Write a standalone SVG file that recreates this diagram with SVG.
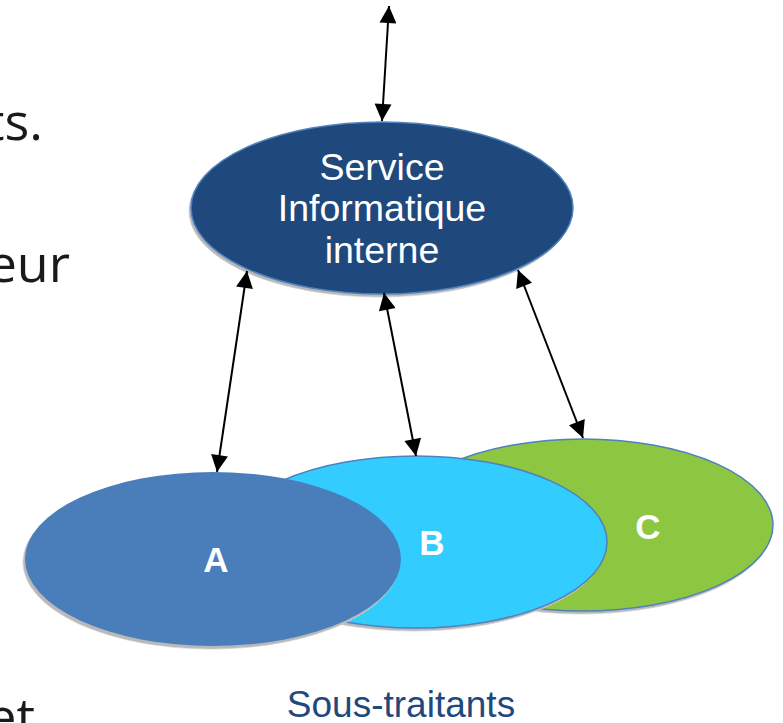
<svg xmlns="http://www.w3.org/2000/svg" width="783" height="723" viewBox="0 0 783 723">
<defs>
<style>
.side{font-family:"Open Sans","Noto Sans","DejaVu Sans",sans-serif;font-size:52px;fill:#1a1a1a}
.lbl{font-family:"Liberation Sans",Arial,sans-serif;fill:#ffffff;text-anchor:middle}
.big{font-size:37.5px}
.letter{font-size:35px;font-weight:bold}
.shadow{fill:#b9b9b9;stroke:#d0d0d0;stroke-width:1;stroke-dasharray:2 1}
.conn line{stroke:#000;stroke-width:2;marker-start:url(#ah);marker-end:url(#ah)}
</style>
<marker id="ah" viewBox="0 0 10 10" refX="10" refY="5" markerUnits="userSpaceOnUse" markerWidth="18" markerHeight="17" orient="auto-start-reverse">
<path d="M0,0 L10,5 L0,10 z" fill="#000"/>
</marker>
</defs>
<rect width="783" height="723" fill="#ffffff"/>

<text class="side" x="43" y="140" text-anchor="end">ts.</text>
<text class="side" x="70" y="282" text-anchor="end">eur</text>
<text class="side" x="35" y="735" text-anchor="end">et</text>

<g id="node-C">
<ellipse class="shadow" cx="581" cy="528" rx="190" ry="86"/>
<ellipse cx="583" cy="525" rx="190" ry="86" fill="#8DC641" stroke="#4F81BD" stroke-width="1.5"/>
<text class="lbl letter" x="648" y="539">C</text>
</g>
<g id="node-B">
<ellipse class="shadow" cx="414" cy="545" rx="191" ry="86"/>
<ellipse cx="416" cy="542" rx="191" ry="86" fill="#33CCFF" stroke="#4F81BD" stroke-width="1.5"/>
<text class="lbl letter" x="432" y="555">B</text>
</g>
<g id="node-A">
<ellipse class="shadow" cx="211" cy="562" rx="188" ry="87"/>
<ellipse cx="213" cy="559" rx="188" ry="87" fill="#4A7EBB"/>
<text class="lbl letter" x="216" y="572">A</text>
</g>
<g id="node-service">
<ellipse class="shadow" cx="380" cy="211" rx="191" ry="86"/>
<ellipse cx="382" cy="208" rx="191" ry="86" fill="#1F497D" stroke="#4F81BD" stroke-width="1.5"/>
<text class="lbl big" x="382" y="180">Service</text>
<text class="lbl big" x="382" y="221">Informatique</text>
<text class="lbl big" x="382" y="263">interne</text>
</g>

<g id="connectors" class="conn">
<line x1="389" y1="6" x2="382" y2="121"/>
<line x1="247" y1="271" x2="217" y2="472"/>
<line x1="384" y1="293" x2="416" y2="456"/>
<line x1="518" y1="270" x2="583" y2="438"/>
</g>

<text x="401" y="717" text-anchor="middle" font-family="Liberation Sans, Arial, sans-serif" font-size="37" fill="#1F497D">Sous-traitants</text>
</svg>
